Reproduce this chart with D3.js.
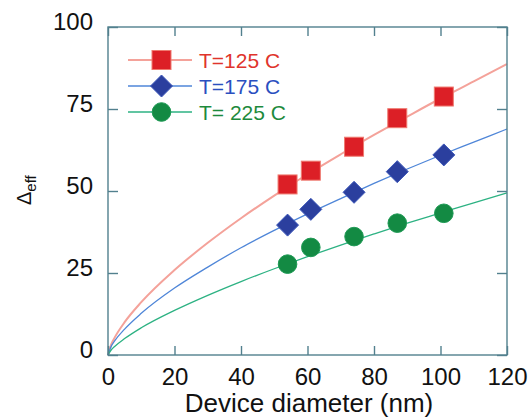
<!DOCTYPE html>
<html><head><meta charset="utf-8">
<script src="https://cdn.jsdelivr.net/npm/d3@7"></script>
<style>html,body{margin:0;padding:0;background:#fff;}svg{display:block;font-family:Arial,"Liberation Sans",Helvetica,sans-serif;}</style>
</head><body><svg id="c" width="529" height="419"></svg>
<script>
// ---- data ----
const diameters = [54, 61, 74, 87, 101];
const series = ["T=125 C", "T=175 C", "T= 225 C"];
const measured125 = [52.0, 56.2, 63.5, 72.2, 78.8];
const measured175 = [39.6, 44.4, 49.6, 55.9, 61.0];
const measured225 = [27.7, 32.8, 36.1, 40.2, 43.2];
// fit curves
const curveX   = [0, 1, 2, 5, 10, 20, 30, 40, 50, 60, 70, 80, 90, 100, 110, 120];
const curve125 = [0, 3.3, 5.3, 10.0, 16.1, 25.9, 34.2, 41.7, 48.6, 55.1, 61.2, 67.1, 72.7, 78.2, 83.4, 88.7];
const curve175 = [0, 2.7, 4.3, 7.9, 12.7, 20.4, 26.8, 32.7, 38.0, 43.0, 47.7, 52.3, 56.7, 60.9, 64.9, 68.9];
const curve225 = [0, 1.6, 2.6, 5.0, 8.3, 13.6, 18.2, 22.4, 26.3, 30.0, 33.5, 36.9, 40.2, 43.3, 46.4, 49.4];
const xTicks = [0, 20, 40, 60, 80, 100, 120];
const yTicks = [0, 25, 50, 75, 100];

// ---- layout ----
const svg = d3.select("#c");
const L = 108, R = 507, T = 27, B = 355;
const x = d3.scaleLinear().domain([0, 120]).range([L, R]);
const y = d3.scaleLinear().domain([0, 100]).range([B, T]);
const axisCol = "#52808e";

const styles = [
  {line:"#f4a29a", lw:2, fill:"#dc1f26", stroke:"#ef7a70", text:"#e0342c", shape:"square"},
  {line:"#4f86d8", lw:1.3, fill:"#2b3f9e", stroke:"#3a55b8", text:"#2a4fbf", shape:"diamond"},
  {line:"#2db283", lw:1.3, fill:"#138a43", stroke:"#1f9a55", text:"#1d8a3c", shape:"circle"}
];
const measured = [measured125, measured175, measured225];
const curves = [curve125, curve175, curve225];

// curves
const line = d3.line().x(d => x(d[0])).y(d => y(d[1])).curve(d3.curveMonotoneX);
curves.forEach((c, i) => {
  svg.append("path").datum(curveX.map((v, j) => [v, c[j]]))
    .attr("d", line).attr("fill", "none")
    .attr("stroke", styles[i].line).attr("stroke-width", styles[i].lw);
});

function marker(g, shape, cx, cy, st) {
  if (shape === "square") {
    g.append("rect").attr("x", cx - 9.5).attr("y", cy - 9.5).attr("width", 19).attr("height", 19)
      .attr("fill", st.fill).attr("stroke", st.stroke).attr("stroke-width", 1);
  } else if (shape === "diamond") {
    const r = 11;
    g.append("path").attr("d", `M${cx},${cy - r}L${cx + r},${cy}L${cx},${cy + r}L${cx - r},${cy}Z`)
      .attr("fill", st.fill).attr("stroke", st.stroke).attr("stroke-width", 1);
  } else {
    g.append("circle").attr("cx", cx).attr("cy", cy).attr("r", 9.3)
      .attr("fill", st.fill).attr("stroke", st.stroke).attr("stroke-width", 1);
  }
}

// markers
measured.forEach((m, i) => {
  const g = svg.append("g");
  m.forEach((v, j) => marker(g, styles[i].shape, x(diameters[j]), y(v), styles[i]));
});

// frame and axes
svg.append("rect").attr("x", L).attr("y", T).attr("width", R - L).attr("height", B - T)
  .attr("fill", "none").attr("stroke", axisCol).attr("stroke-width", 1.4);

const gxB = svg.append("g").attr("transform", `translate(0,${B})`)
  .call(d3.axisBottom(x).tickValues(xTicks).tickSize(-9).tickPadding(13).tickFormat(d3.format("d")));
const gxT = svg.append("g").attr("transform", `translate(0,${T})`)
  .call(d3.axisTop(x).tickValues(xTicks).tickSize(-9).tickFormat(""));
const gyL = svg.append("g").attr("transform", `translate(${L},0)`)
  .call(d3.axisLeft(y).tickValues(yTicks).tickSize(-10).tickPadding(15).tickFormat(d3.format("d")));
const gyR = svg.append("g").attr("transform", `translate(${R},0)`)
  .call(d3.axisRight(y).tickValues(yTicks).tickSize(-10).tickFormat(""));
[gxB, gxT, gyL, gyR].forEach(g => {
  g.select(".domain").remove();
  g.selectAll(".tick line").attr("stroke", axisCol).attr("stroke-width", 1.4);
  g.selectAll(".tick text").attr("fill", "#111").attr("font-size", 24).attr("font-family", "Arial, Liberation Sans, sans-serif");
});
gyL.selectAll(".tick text").attr("dy", "0.1em");

// axis titles
svg.append("text").attr("x", 309).attr("y", 412).attr("text-anchor", "middle")
  .attr("font-size", 26).attr("fill", "#111").text("Device diameter (nm)");
const yl = svg.append("text").attr("transform", "translate(31,205) rotate(-90)")
  .attr("font-size", 20).attr("fill", "#111");
yl.append("tspan").text("Δ").attr("font-weight", "300");
yl.append("tspan").text("eff").attr("font-size", 15).attr("dy", 5);

// legend
const legY = [60, 86, 112];
series.forEach((s, i) => {
  const g = svg.append("g");
  g.append("line").attr("x1", 128).attr("x2", 192).attr("y1", legY[i]).attr("y2", legY[i])
    .attr("stroke", styles[i].line).attr("stroke-width", styles[i].lw);
  marker(g, styles[i].shape, 161.5, legY[i], styles[i]);
  g.append("text").attr("x", 199).attr("y", legY[i] + 7.5).attr("font-size", 21)
    .attr("fill", styles[i].text).text(s);
});
</script></body></html>
